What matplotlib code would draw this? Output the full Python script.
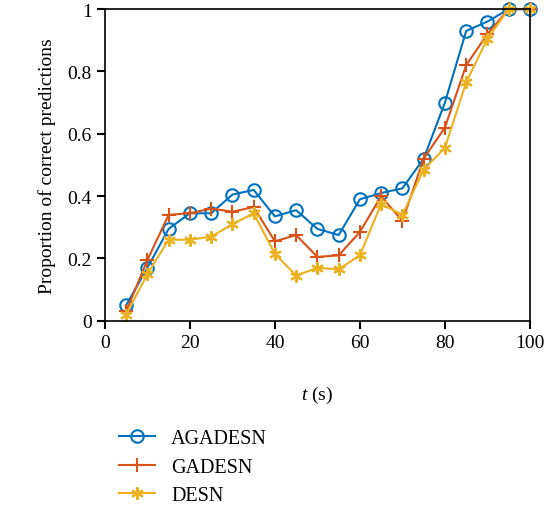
import matplotlib
matplotlib.use('Agg')
import matplotlib.pyplot as plt

plt.rcParams['font.family'] = 'Liberation Serif'
plt.rcParams['mathtext.fontset'] = 'custom'
plt.rcParams['mathtext.it'] = 'Liberation Serif:italic'
plt.rcParams['mathtext.rm'] = 'Liberation Serif'

t = [5, 10, 15, 20, 25, 30, 35, 40, 45, 50, 55, 60, 65, 70, 75, 80, 85, 90, 95, 100]
agadesn = [0.05, 0.17, 0.295, 0.345, 0.345, 0.405, 0.42, 0.335, 0.355, 0.295,
           0.275, 0.39, 0.41, 0.425, 0.52, 0.70, 0.93, 0.96, 1.0, 1.0]
gadesn = [0.03, 0.195, 0.34, 0.345, 0.36, 0.35, 0.365, 0.255, 0.275, 0.205,
          0.21, 0.285, 0.40, 0.32, 0.52, 0.62, 0.82, 0.92, 1.0, 1.0]
desn = [0.02, 0.15, 0.26, 0.26, 0.27, 0.31, 0.345, 0.215, 0.145, 0.17,
        0.165, 0.21, 0.375, 0.34, 0.485, 0.555, 0.765, 0.905, 1.0, 1.0]

fig = plt.figure(figsize=(5.52, 5.06), dpi=100)
ax = fig.add_axes([0.19, 0.364, 0.77, 0.616])

ax.plot(t, agadesn, color='#0072BD', lw=1.5, marker='o', ms=9, mfc='none', mew=1.5,
        label='AGADESN', clip_on=False)
ax.plot(t, gadesn, color='#D95319', lw=1.5, marker='+', ms=10, mew=1.5,
        label='GADESN', clip_on=False)
# matlab-style asterisk marker
ax.plot(t, desn, color='#EDB120', lw=1.5, marker=(6, 2, 0), ms=9, mew=1.5,
        label='DESN', clip_on=False)

ax.set_xlim(0, 100)
ax.set_ylim(0, 1)
ax.set_xticks([0, 20, 40, 60, 80, 100])
ax.set_yticks([0, 0.2, 0.4, 0.6, 0.8, 1])
ax.set_yticklabels(['0', '0.2', '0.4', '0.6', '0.8', '1'])
ax.tick_params(direction='out', length=6, width=1.5, labelsize=14)
for s in ax.spines.values():
    s.set_linewidth(1.2)

ax.set_xlabel('$t$ (s)', fontsize=14, labelpad=24)
ax.set_ylabel('Proportion of correct predictions', fontsize=14, labelpad=8)

ax.legend(loc='upper left', bbox_to_anchor=(-0.01, -0.29), frameon=False, fontsize=14.5,
          handlelength=1.8, handletextpad=0.8, labelspacing=0.45)

fig.savefig('out.png', dpi=100)
